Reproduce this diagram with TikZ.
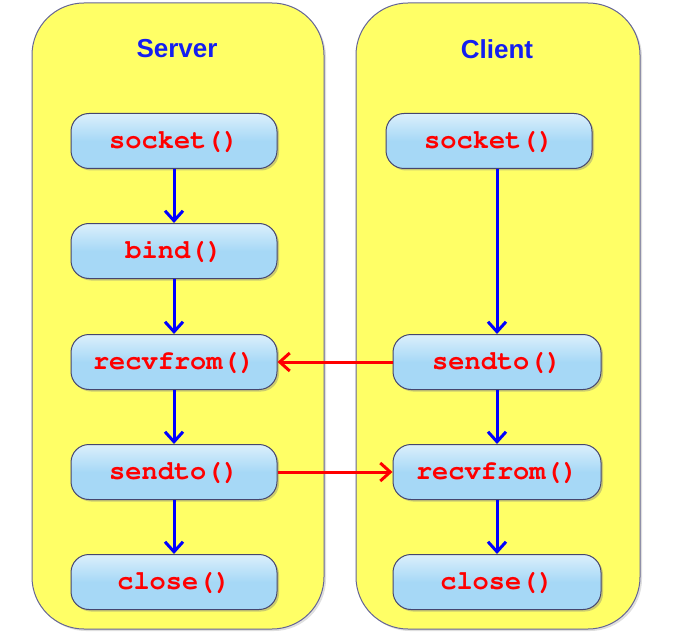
\documentclass[tikz,border=0pt]{standalone}
\usepackage[T1]{fontenc}
\usepackage{fontspec}
\setmainfont{Liberation Sans}
\usetikzlibrary{arrows.meta,shadows}

\definecolor{panelyellow}{RGB}{255,255,102}
\definecolor{panelline}{RGB}{100,100,150}
\definecolor{callblue}{RGB}{166,216,246}
\definecolor{callline}{RGB}{70,70,110}
\definecolor{titleblue}{RGB}{20,30,240}
\definecolor{callred}{RGB}{255,0,0}

\newcommand{\callfont}{\fontencoding{T1}\fontfamily{pcr}\fontseries{b}\fontsize{27}{27}\selectfont}

\tikzset{
	panel/.style={draw=panelline, line width=1pt, fill=panelyellow, rounded corners=52pt,
		drop shadow={shadow xshift=2pt, shadow yshift=-2pt, opacity=0.25}},
	title/.style={text=titleblue, font=\fontsize{26}{26}\selectfont\bfseries},
	call/.style={draw=callline, line width=1pt, rounded corners=18pt,
		top color=callblue!40!white, bottom color=callblue, middle color=callblue,
		minimum width=206pt, minimum height=55pt, inner sep=0pt,
		text=callred, font=\callfont,
		drop shadow={shadow xshift=2pt, shadow yshift=-2pt, opacity=0.4}},
	flow/.style={draw=blue, line width=3pt, -{Straight Barb[length=10pt,width=18pt,line width=3pt]}},
	msg/.style={draw=red, line width=3pt, -{Straight Barb[length=10pt,width=18pt,line width=3pt]}}
}

\begin{document}
\begin{tikzpicture}[x=1pt, y=-1pt]
		\useasboundingbox (0,0) rectangle (676,636);
		
		%Server side
		\draw[panel] (32,3) rectangle (324,629);
		\node[title] (servertitle) at (177,49) {Server};
		
		\node[call] (ssocket) at (174,141) {socket()};
		\node[call] (sbind) at (174,251) {bind()};
		\node[call] (srecv) at (174,362) {recvfrom()};
		\node[call] (ssend) at (174,472) {sendto()};
		\node[call] (sclose) at (174,582) {close()};
		
		\draw[flow] (ssocket) -- (sbind);
		\draw[flow] (sbind) -- (srecv);
		\draw[flow] (srecv) -- (ssend);
		\draw[flow] (ssend) -- (sclose);
		
		
		%Client side
		\draw[panel] (356,3) rectangle (640,629);
		\node[title] (clienttitle) at (497,49) {Client};
		
		\node[call] (csocket) at (489,141) {socket()};
		\node[call, minimum width=208pt] (csend) at (497,362) {sendto()};
		\node[call, minimum width=208pt] (crecv) at (497,472) {recvfrom()};
		\node[call, minimum width=208pt] (cclose) at (497,582) {close()};
		
		\draw[flow] (csocket.south -| csend) -- (csend);
		\draw[flow] (csend) -- (crecv);
		\draw[flow] (crecv) -- (cclose);
		
		
		%Messages
		\draw[msg] (csend) -- (srecv);
		\draw[msg] (ssend) -- (crecv);
		
	\end{tikzpicture}
\end{document}
